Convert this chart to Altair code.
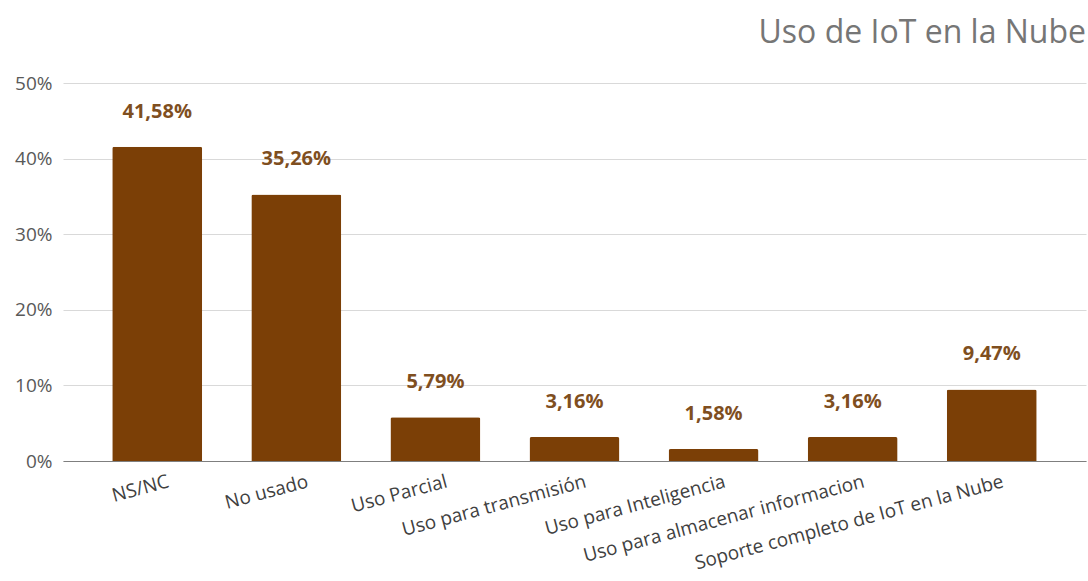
import altair as alt
import pandas as pd

categories = [
    "NS/NC",
    "No usado",
    "Uso Parcial",
    "Uso para transmisión",
    "Uso para Inteligencia",
    "Uso para almacenar informacion",
    "Soporte completo de IoT en la Nube",
]
values = [41.58, 35.26, 5.79, 3.16, 1.58, 3.16, 9.47]
labels = ["41,58%", "35,26%", "5,79%", "3,16%", "1,58%", "3,16%", "9,47%"]
y_ticks = [0, 0.1, 0.2, 0.3, 0.4, 0.5]

df = pd.DataFrame({
    "cat": categories,
    "v": [x / 100 for x in values],
    "lbl": labels,
})

FONT = "Open Sans"

x = alt.X(
    "cat:N",
    sort=categories,
    title=None,
    scale=alt.Scale(paddingInner=0.353, paddingOuter=0.354),
    axis=alt.Axis(
        labelAngle=-15,
        labelAlign="right",
        labelBaseline="top",
        labelPadding=11,
        labelOffset=9,
        labelFontSize=19,
        labelColor="#404040",
        labelFont=FONT,
        ticks=False,
        domainColor="#7f7f7f",
        domainWidth=1.2,
        labelOverlap=False,
        labelLimit=500,
    ),
)
y = alt.Y(
    "v:Q",
    title=None,
    scale=alt.Scale(domain=[0, 0.5], nice=False),
    axis=alt.Axis(
        values=y_ticks,
        format=".0%",
        labelFontSize=19,
        labelColor="#595959",
        labelFont=FONT,
        labelPadding=11,
        ticks=False,
        domain=False,
        gridColor="#d9d9d9",
        gridWidth=1,
    ),
)

bars = alt.Chart(df).mark_bar(
    color="#7B3F06", cornerRadiusTopLeft=2, cornerRadiusTopRight=2
).encode(x=x, y=y)

text = alt.Chart(df).mark_text(
    dy=-35, baseline="middle", fontSize=20, fontWeight="bold",
    color="#7f4f1f", font=FONT,
).encode(x=alt.X("cat:N", sort=categories), y="v:Q", text="lbl:N")

chart = (bars + text).properties(
    width=1023,
    height=378,
    title=alt.TitleParams(
        "Uso de IoT en la Nube",
        anchor="end",
        fontSize=32,
        fontWeight="normal",
        color="#767676",
        font=FONT,
        offset=24,
    ),
    autosize=alt.AutoSizeParams(type="none"),
    padding={"left": 63, "top": 83, "right": 2, "bottom": 120},
).configure_view(stroke=None)

chart.save("out.html", embed_options={"renderer": "svg", "actions": False})
